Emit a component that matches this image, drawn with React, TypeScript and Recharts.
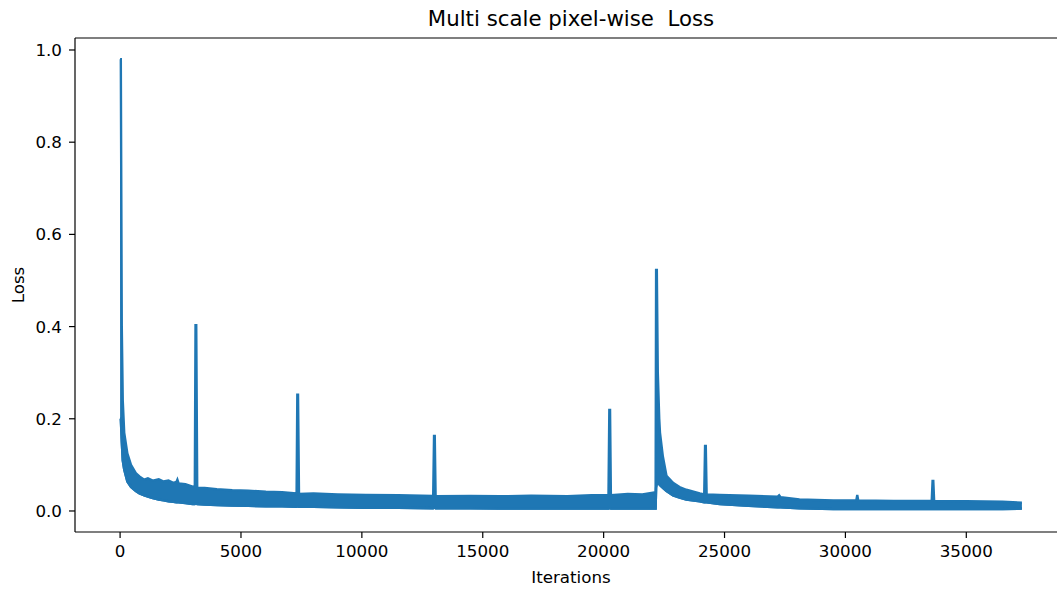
import React from "react";
import { ComposedChart, Area, Line, XAxis, YAxis, ReferenceLine } from "recharts";

// training log: iteration, lower and upper edge of the noisy loss band (spikes included)
const iterations = [
  0, 30, 70, 110, 170, 300, 450, 650, 800, 1000, 1150, 1350, 1600, 1800, 2000, 2200, 2330, 2370, 2420,
  2700, 3000, 3090, 3120, 3150, 3190, 3500, 4000, 4640, 5300, 6030, 6700, 7300, 7330, 7360, 7400,
  8000, 9000, 10170, 11500, 12950, 12985, 13015, 13050, 14500, 15700, 17000, 18500, 19500, 20200,
  20235, 20265, 20300, 21000, 21600, 22100, 22150, 22170, 22200, 22240, 22300, 22330, 22450, 22600,
  22870, 23140, 23420, 23975, 24160, 24195, 24225, 24260, 24800, 26000, 27200, 27260, 27320, 28100,
  29500, 30450, 30490, 30530, 32000, 33570, 33605, 33635, 33670, 35000, 36500, 37300,
];
const lossLow = [
  0.2, 0.2, 0.15, 0.11, 0.09, 0.064, 0.052, 0.043, 0.038, 0.034, 0.031, 0.028, 0.025, 0.023, 0.021, 0.02, 0.019, 0.019, 0.019,
  0.017, 0.015, 0.015, 0.016, 0.016, 0.015, 0.014, 0.013, 0.012, 0.011, 0.01, 0.01, 0.009, 0.01, 0.01, 0.009,
  0.009, 0.008, 0.007, 0.007, 0.006, 0.007, 0.007, 0.006, 0.006, 0.005, 0.005, 0.005, 0.005, 0.005,
  0.006, 0.006, 0.005, 0.005, 0.005, 0.005, 0.005, 0.05, 0.06, 0.06, 0.058, 0.056, 0.05, 0.043,
  0.034, 0.029, 0.025, 0.021, 0.019, 0.019, 0.019, 0.019, 0.015, 0.011, 0.008, 0.008, 0.008, 0.006,
  0.004, 0.004, 0.004, 0.004, 0.004, 0.004, 0.004, 0.004, 0.004, 0.004, 0.004, 0.005,
];
const lossHigh = [
  0.98, 0.98, 0.4, 0.24, 0.17, 0.125, 0.1, 0.082, 0.075, 0.068, 0.071, 0.066, 0.069, 0.064, 0.066, 0.061, 0.063, 0.068, 0.06,
  0.058, 0.053, 0.052, 0.403, 0.403, 0.05, 0.05, 0.047, 0.045, 0.044, 0.042, 0.041, 0.038, 0.252, 0.252, 0.037,
  0.038, 0.036, 0.035, 0.034, 0.0325, 0.163, 0.163, 0.032, 0.0325, 0.032, 0.033, 0.032, 0.034, 0.035,
  0.219, 0.219, 0.034, 0.037, 0.036, 0.04, 0.041, 0.523, 0.523, 0.3, 0.2, 0.17, 0.118, 0.076,
  0.061, 0.052, 0.046, 0.038, 0.036, 0.141, 0.141, 0.036, 0.035, 0.033, 0.031, 0.034, 0.03, 0.025,
  0.023, 0.023, 0.035, 0.023, 0.022, 0.022, 0.065, 0.065, 0.022, 0.021, 0.02, 0.018,
];

const xTicks = [0, 5000, 10000, 15000, 20000, 25000, 30000, 35000];
const yTicks = [0, 0.2, 0.4, 0.6, 0.8, 1.0];

const BLUE = "#1f77b4";
const FONT = "'DejaVu Sans', sans-serif";

const data = iterations.map((it, i) => ({ iter: it, low: lossLow[i], loss: [lossLow[i], lossHigh[i]] }));

const tickStyle = { fill: "#000", fontSize: 16.7, fontFamily: FONT };

export default function App() {
  return (
    <div style={{ position: "absolute", left: 0, top: 0, width: 1057, height: 590, overflow: "hidden", background: "#fff" }}>
      <div style={{ position: "absolute", left: 0, top: 6, width: 1142, textAlign: "center", fontFamily: FONT, fontSize: 21.3, lineHeight: "26px", color: "#000" }}>
        Multi scale pixel-wise&nbsp; Loss
      </div>
      <div style={{ position: "absolute", left: 0, top: 566, width: 1142, textAlign: "center", fontFamily: FONT, fontSize: 16.7, lineHeight: "22px", color: "#000" }}>
        Iterations
      </div>
      <div style={{ position: "absolute", left: 18 - 40, top: 285 - 11, width: 80, textAlign: "center", fontFamily: FONT, fontSize: 16.7, lineHeight: "22px", color: "#000", transform: "rotate(-90deg)" }}>
        Loss
      </div>
      <ComposedChart width={1080} height={590} data={data} margin={{ top: 38, right: 13, bottom: 0, left: 0 }}>
        <XAxis
          type="number"
          dataKey="iter"
          domain={[-1865, 39165]}
          ticks={xTicks}
          allowDataOverflow
          height={58}
          tickSize={6}
          tickMargin={7}
          tick={tickStyle}
          tickLine={{ stroke: "#000", strokeWidth: 1.2 }}
          axisLine={{ stroke: "#000", strokeWidth: 1.2 }}
        />
        <YAxis
          type="number"
          domain={[-0.0456, 1.026]}
          ticks={yTicks}
          allowDataOverflow
          width={75}
          tickSize={6}
          tickMargin={7}
          tick={tickStyle}
          tickFormatter={(v: number) => v.toFixed(1)}
          tickLine={{ stroke: "#000", strokeWidth: 1.2 }}
          axisLine={{ stroke: "#000", strokeWidth: 1.2 }}
        />
        <ReferenceLine y={1.026} stroke="#000" strokeWidth={1.2} />
        <Area
          type="linear"
          dataKey="loss"
          stroke={BLUE}
          strokeWidth={2.4}
          fill={BLUE}
          fillOpacity={1}
          dot={false}
          activeDot={false}
          isAnimationActive={false}
        />
        <Line
          type="linear"
          dataKey="low"
          stroke={BLUE}
          strokeWidth={2.4}
          dot={false}
          activeDot={false}
          isAnimationActive={false}
        />
      </ComposedChart>
    </div>
  );
}
